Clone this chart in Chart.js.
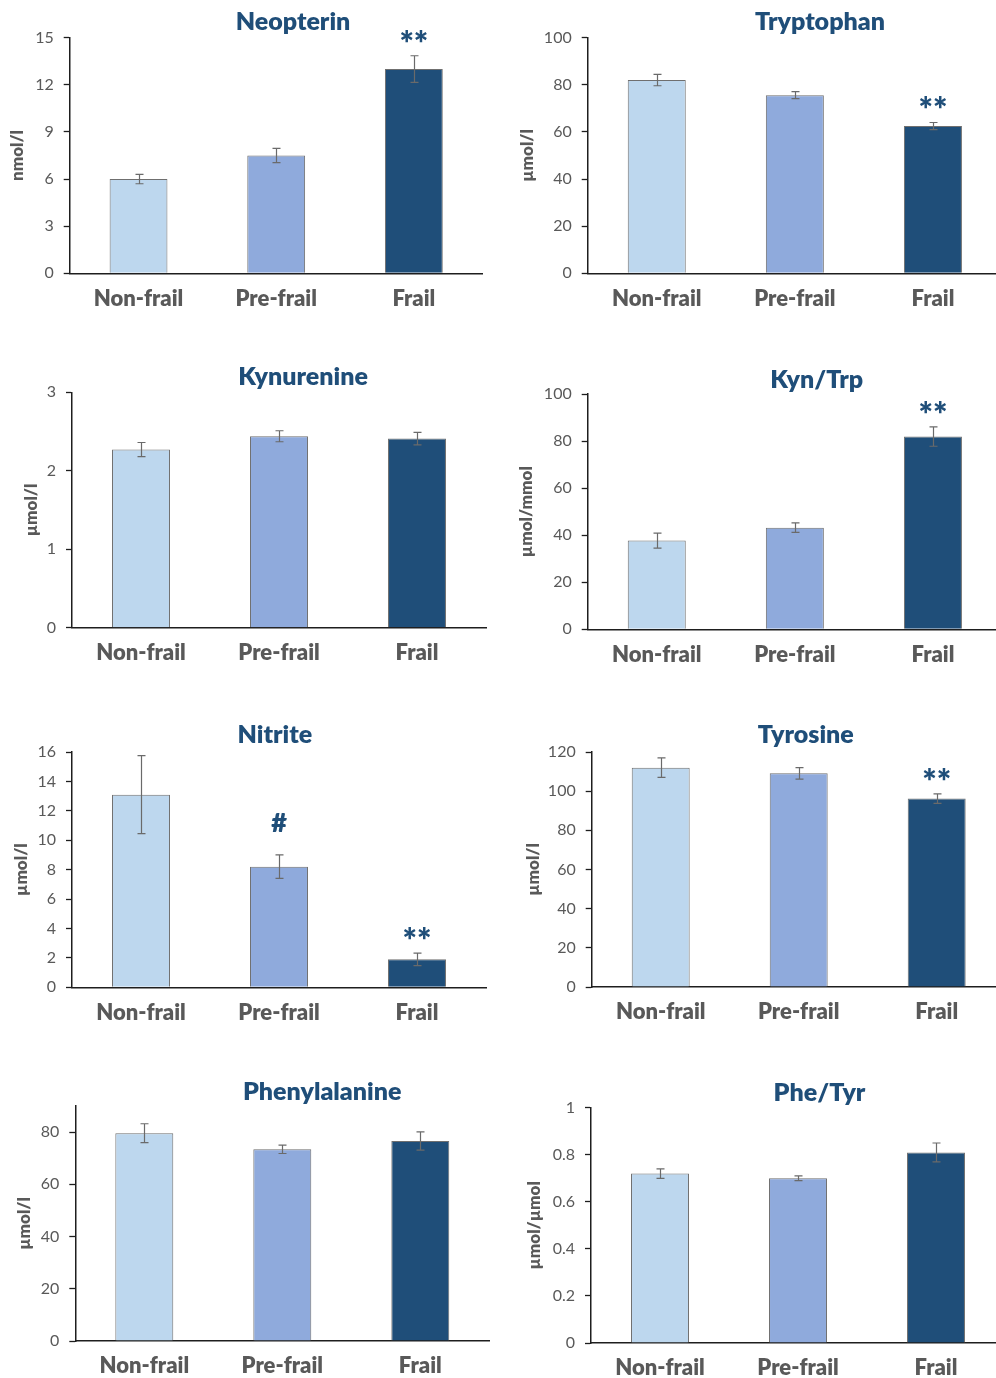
<!DOCTYPE html>
<html>
<head>
<meta charset="utf-8">
<script src="https://cdn.jsdelivr.net/npm/chart.js@4.4.1/dist/chart.umd.min.js"></script>
<style>
  html, body { margin: 0; padding: 0; background: #fff; width: 996px; height: 1378px; overflow: hidden; }
  .panel { position: absolute; }
</style>
</head>
<body>
<script>
// ---- data ----
const categories = ['Non-frail', 'Pre-frail', 'Frail'];

const neopterinMean = [6.0, 7.5, 13.0];
const neopterinSem  = [0.3, 0.45, 0.85];
const neopterinSig  = ['', '', '**'];
const neopterinTicks = [0, 3, 6, 9, 12, 15];

const tryptophanMean = [82.0, 75.6, 62.5];
const tryptophanSem  = [2.4, 1.5, 1.5];
const tryptophanSig  = ['', '', '**'];
const tryptophanTicks = [0, 20, 40, 60, 80, 100];

const kynurenineMean = [2.27, 2.44, 2.41];
const kynurenineSem  = [0.09, 0.07, 0.08];
const kynurenineSig  = ['', '', ''];
const kynurenineTicks = [0, 1, 2, 3];

const kynTrpMean = [37.7, 43.2, 81.9];
const kynTrpSem  = [3.2, 2.0, 4.1];
const kynTrpSig  = ['', '', '**'];
const kynTrpTicks = [0, 20, 40, 60, 80, 100];

const nitriteMean = [13.1, 8.2, 1.9];
const nitriteSem  = [2.65, 0.8, 0.42];
const nitriteSig  = ['', '#', '**'];
const nitriteTicks = [0, 2, 4, 6, 8, 10, 12, 14, 16];

const tyrosineMean = [112.0, 109.1, 96.2];
const tyrosineSem  = [5.0, 2.9, 2.4];
const tyrosineSig  = ['', '', '**'];
const tyrosineTicks = [0, 20, 40, 60, 80, 100, 120];

const phenylalanineMean = [79.6, 73.4, 76.6];
const phenylalanineSem  = [3.6, 1.6, 3.5];
const phenylalanineSig  = ['', '', ''];
const phenylalanineTicks = [0, 20, 40, 60, 80];
const phenylalanineMax = 90;

const pheTyrMean = [0.72, 0.70, 0.81];
const pheTyrSem  = [0.02, 0.01, 0.04];
const pheTyrSig  = ['', '', ''];
const pheTyrTicks = [0, 0.2, 0.4, 0.6, 0.8, 1];

// ---- styling ----
const FONT = 'Lato, "Open Sans", sans-serif';
const GREY_TEXT = '#595959';
const TITLE_BLUE = '#1F4E79';
const AXIS = '#1e1e1e';
const BAR_FILLS = ['#BDD7EE', '#8FAADC', '#1F4E79'];

// panel frames: canvas box, plot edges, title / axis-title placement
const panels = [
  { title: 'Neopterin',     unit: 'nmol/l',    mean: neopterinMean,     sem: neopterinSem,     sig: neopterinSig,     ticks: neopterinTicks,
    box: [0, 0, 500, 345],     plot: [69.7, 482.7, 37.7, 273.3],   titleXY: [293, 21.7],    unitX: 18 },
  { title: 'Tryptophan',    unit: 'µmol/l',    mean: tryptophanMean,    sem: tryptophanSem,    sig: tryptophanSig,    ticks: tryptophanTicks,
    box: [500, 0, 510, 345],   plot: [587.7, 1002, 37.7, 273.3],   titleXY: [820, 21.7],    unitX: 528 },
  { title: 'Kynurenine',    unit: 'µmol/l',    mean: kynurenineMean,    sem: kynurenineSem,    sig: kynurenineSig,    ticks: kynurenineTicks,
    box: [0, 350, 500, 350],   plot: [72, 486, 392.3, 627.7],      titleXY: [303, 377.3],   unitX: 31.7 },
  { title: 'Kyn/Trp',       unit: 'µmol/mmol', mean: kynTrpMean,        sem: kynTrpSem,        sig: kynTrpSig,        ticks: kynTrpTicks,
    box: [500, 350, 510, 350], plot: [587.7, 1002, 394, 629.3],    titleXY: [816.7, 380],   unitX: 526.7 },
  { title: 'Nitrite',       unit: 'µmol/l',    mean: nitriteMean,       sem: nitriteSem,       sig: nitriteSig,       ticks: nitriteTicks,
    box: [0, 705, 500, 350],   plot: [72, 486, 752, 987.3],        titleXY: [274.8, 735],   unitX: 21.7 },
  { title: 'Tyrosine',      unit: 'µmol/l',    mean: tyrosineMean,      sem: tyrosineSem,      sig: tyrosineSig,      ticks: tyrosineTicks,
    box: [500, 705, 510, 350], plot: [591.7, 1005.7, 752, 987],    titleXY: [805.8, 735],   unitX: 533.3 },
  { title: 'Phenylalanine', unit: 'µmol/l',    mean: phenylalanineMean, sem: phenylalanineSem, sig: phenylalanineSig, ticks: phenylalanineTicks, max: phenylalanineMax,
    box: [0, 1062, 500, 340],  plot: [75.3, 489.3, 1106, 1341],    titleXY: [322.2, 1091.7], unitX: 25 },
  { title: 'Phe/Tyr',       unit: 'µmol/µmol', mean: pheTyrMean,        sem: pheTyrSem,        sig: pheTyrSig,        ticks: pheTyrTicks,
    box: [500, 1062, 510, 340], plot: [591, 1005, 1107.7, 1343],   titleXY: [819.5, 1093.3], unitX: 535 }
];

// error bars, significance marks, panel title and unit label
const decorations = {
  id: 'decorations',
  afterDatasetsDraw(chart, args, opts) {
    const ctx = chart.ctx;
    const yScale = chart.scales.y;
    const meta = chart.getDatasetMeta(0);
    const values = chart.data.datasets[0].data;
    ctx.save();
    meta.data.forEach((bar, i) => {
      const v = values[i], e = opts.sem[i];
      const yTop = yScale.getPixelForValue(v + e);
      const yBot = yScale.getPixelForValue(v - e);
      const x = Math.round(bar.x) + 0.5;
      ctx.strokeStyle = '#6a6a6a';
      ctx.lineWidth = 1.2;
      ctx.beginPath();
      ctx.moveTo(x, yTop); ctx.lineTo(x, yBot);
      ctx.moveTo(x - 4, yTop); ctx.lineTo(x + 4, yTop);
      ctx.moveTo(x - 4, yBot); ctx.lineTo(x + 4, yBot);
      ctx.stroke();
      const mark = opts.sig[i];
      if (mark) {
        ctx.fillStyle = TITLE_BLUE;
        ctx.textAlign = 'center';
        ctx.textBaseline = 'middle';
        if (mark === '#') {
          ctx.font = '800 27px ' + FONT;
          ctx.fillText(mark, bar.x, yTop - 32);
        } else {
          ctx.font = '800 34px ' + FONT;
          ctx.fillText(mark, bar.x, yTop - 11);
        }
      }
    });
    ctx.restore();
  },
  afterDraw(chart, args, opts) {
    const ctx = chart.ctx;
    const area = chart.chartArea;
    ctx.save();
    ctx.fillStyle = TITLE_BLUE;
    ctx.font = '800 25px ' + FONT;
    ctx.textAlign = 'center';
    ctx.textBaseline = 'middle';
    ctx.fillText(opts.title, opts.titleX, opts.titleY);
    ctx.translate(opts.unitX, (area.top + area.bottom) / 2);
    ctx.rotate(-Math.PI / 2);
    ctx.fillStyle = GREY_TEXT;
    ctx.font = '800 17px ' + FONT;
    ctx.fillText(opts.unit, 0, 0);
    ctx.restore();
  }
};

panels.forEach(p => {
  const [bx, by, bw, bh] = p.box;
  const [left, right, top, bottom] = p.plot;
  const holder = document.createElement('div');
  holder.className = 'panel';
  holder.style.left = bx + 'px';
  holder.style.top = by + 'px';
  holder.style.width = bw + 'px';
  holder.style.height = bh + 'px';
  const canvas = document.createElement('canvas');
  canvas.width = bw; canvas.height = bh;
  canvas.style.width = bw + 'px'; canvas.style.height = bh + 'px';
  holder.appendChild(canvas);
  document.body.appendChild(holder);

  const tickValues = p.ticks;
  const yMax = p.max !== undefined ? p.max : tickValues[tickValues.length - 1];

  new Chart(canvas, {
    type: 'bar',
    data: {
      labels: categories,
      datasets: [{
        data: p.mean,
        backgroundColor: BAR_FILLS,
        borderColor: '#6f6f6f',
        borderWidth: 1,
        categoryPercentage: 1,
        barPercentage: 0.42
      }]
    },
    options: {
      responsive: false,
      animation: false,
      devicePixelRatio: 1,
      layout: { padding: { left: 0, top: top - by, right: bx + bw - right, bottom: 0 } },
      plugins: {
        legend: { display: false },
        tooltip: { enabled: false },
        title: { display: false },
        decorations: {
          sem: p.sem, sig: p.sig, title: p.title, unit: p.unit,
          titleX: p.titleXY[0] - bx, titleY: p.titleXY[1] - by, unitX: p.unitX - bx
        }
      },
      scales: {
        x: {
          grid: { display: false },
          border: { display: true, color: AXIS, width: 1.5 },
          ticks: { color: GREY_TEXT, font: { family: FONT, size: 22, weight: '800' }, padding: 4, maxRotation: 0 },
          afterFit(scale) { scale.height = by + bh - bottom; }
        },
        y: {
          min: 0,
          max: yMax,
          grid: { display: true, drawOnChartArea: false, drawTicks: true, tickLength: 6, tickColor: AXIS, tickWidth: 1.3 },
          border: { display: true, color: AXIS, width: 1.5 },
          ticks: { color: GREY_TEXT, font: { family: FONT, size: 16 }, padding: 10, callback: v => String(v) },
          afterBuildTicks(scale) { scale.ticks = tickValues.map(v => ({ value: v })); },
          afterFit(scale) { scale.width = left - bx; }
        }
      }
    },
    plugins: [decorations]
  });
});
</script>
</body>
</html>
